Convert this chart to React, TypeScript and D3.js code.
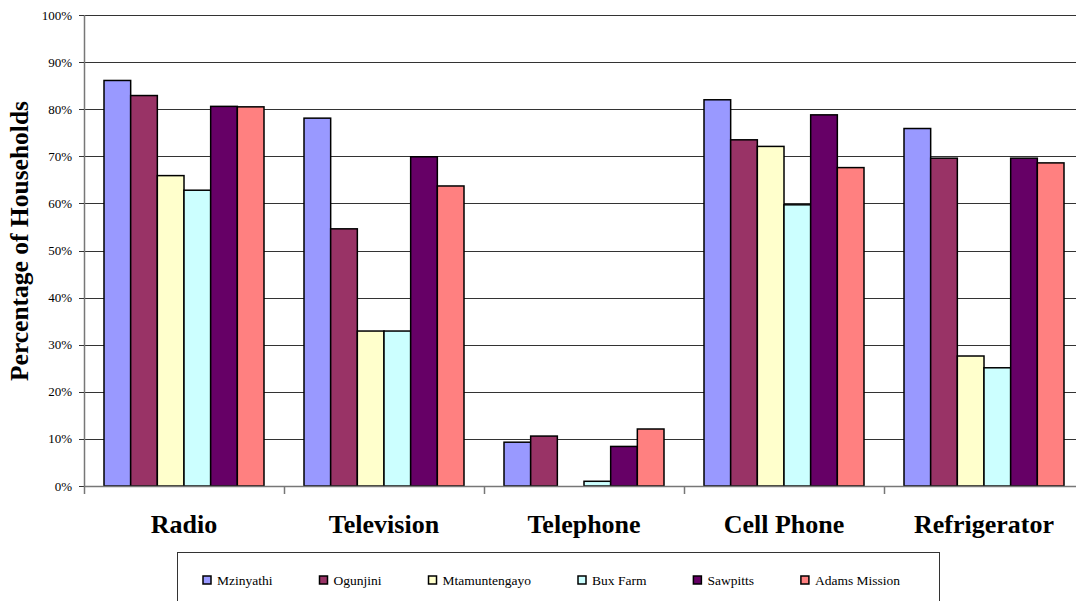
import React, { useRef, useEffect } from 'react';
import * as d3 from 'd3';

const categories = ['Radio', 'Television', 'Telephone', 'Cell Phone', 'Refrigerator'];
const seriesNames = ['Mzinyathi', 'Ogunjini', 'Mtamuntengayo', 'Bux Farm', 'Sawpitts', 'Adams Mission'];
const seriesColors = ['#9999FF', '#993366', '#FFFFCC', '#CCFFFF', '#660066', '#FF8080'];

// percentage of households, one array per area, in category order
const mzinyathi = [86.1, 78.1, 9.3, 82.0, 75.9];
const ogunjini = [82.9, 54.6, 10.6, 73.5, 69.6];
const mtamuntengayo = [65.9, 32.9, 0, 72.1, 27.6];
const buxFarm = [62.8, 32.9, 1.0, 59.7, 25.1];
const sawpitts = [80.6, 69.9, 8.4, 78.8, 69.6];
const adamsMission = [80.5, 63.7, 12.1, 67.6, 68.6];

const seriesValues = [mzinyathi, ogunjini, mtamuntengayo, buxFarm, sawpitts, adamsMission];
const yTicks = [0, 10, 20, 30, 40, 50, 60, 70, 80, 90, 100];

const W = 1076;
const H = 601;
const FONT = '"Liberation Serif", "Times New Roman", serif';

export default function App() {
  const svgRef = useRef<SVGSVGElement>(null);

  useEffect(() => {
    if (!svgRef.current) return;
    const svg = d3.select(svgRef.current);
    svg.selectAll('*').remove();

    const left = 84;
    const right = 1084;
    const top = 15;
    const bottom = 486;

    const x = d3.scaleBand<string>()
      .domain(categories)
      .range([left, right])
      .paddingInner(0.2)
      .paddingOuter(0.1);
    const step = x.step();

    const xs = d3.scaleBand<string>()
      .domain(seriesNames)
      .range([0, x.bandwidth()]);

    const y = d3.scaleLinear().domain([0, 100]).range([bottom, top]);

    svg.append('rect').attr('width', W).attr('height', H).attr('fill', '#fff');

    // gridlines
    svg.append('g')
      .selectAll('line')
      .data(yTicks.filter(t => t > 0))
      .enter().append('line')
      .attr('x1', left).attr('x2', right)
      .attr('y1', d => Math.round(y(d)) + 0.5)
      .attr('y2', d => Math.round(y(d)) + 0.5)
      .attr('stroke', '#333')
      .attr('stroke-width', 1);

    // bars
    const rows = categories.map((c, i) => ({
      cat: c,
      vals: seriesNames.map((s, j) => ({ s, j, v: seriesValues[j][i] })),
    }));

    const grp = svg.append('g')
      .selectAll('g')
      .data(rows)
      .enter().append('g')
      .attr('transform', d => `translate(${x(d.cat)},0)`);

    grp.selectAll('rect')
      .data(d => d.vals.filter(v => v.v > 0))
      .enter().append('rect')
      .attr('x', d => xs(d.s) || 0)
      .attr('y', d => y(d.v))
      .attr('width', xs.bandwidth())
      .attr('height', d => bottom - y(d.v))
      .attr('fill', d => seriesColors[d.j])
      .attr('stroke', '#000')
      .attr('stroke-width', 1.5);

    // axes
    const axisColor = '#777';
    svg.append('line')
      .attr('x1', left + 0.5).attr('x2', left + 0.5)
      .attr('y1', top).attr('y2', bottom)
      .attr('stroke', axisColor).attr('stroke-width', 1.5);
    svg.append('line')
      .attr('x1', left).attr('x2', right)
      .attr('y1', bottom + 0.5).attr('y2', bottom + 0.5)
      .attr('stroke', axisColor).attr('stroke-width', 1.5);

    // y ticks + labels
    const yt = svg.append('g');
    yt.selectAll('line')
      .data(yTicks)
      .enter().append('line')
      .attr('x1', left - 5).attr('x2', left)
      .attr('y1', d => Math.round(y(d)) + 0.5)
      .attr('y2', d => Math.round(y(d)) + 0.5)
      .attr('stroke', '#333');
    yt.selectAll('text')
      .data(yTicks)
      .enter().append('text')
      .attr('x', 72)
      .attr('y', d => y(d) + 4.5)
      .attr('text-anchor', 'end')
      .attr('font-family', FONT)
      .attr('font-size', 13)
      .attr('fill', '#000')
      .text(d => `${d}%`);

    // category ticks
    svg.append('g')
      .selectAll('line')
      .data(d3.range(categories.length + 1))
      .enter().append('line')
      .attr('x1', i => left + i * step + 0.5)
      .attr('x2', i => left + i * step + 0.5)
      .attr('y1', bottom)
      .attr('y2', bottom + 8)
      .attr('stroke', axisColor)
      .attr('stroke-width', 1.5);

    // category labels
    svg.append('g')
      .selectAll('text')
      .data(categories)
      .enter().append('text')
      .attr('x', d => (x(d) || 0) + x.bandwidth() / 2)
      .attr('y', 533)
      .attr('text-anchor', 'middle')
      .attr('font-family', FONT)
      .attr('font-weight', 'bold')
      .attr('font-size', 26)
      .attr('fill', '#000')
      .text(d => d);

    // y title
    svg.append('text')
      .attr('transform', 'translate(28,241) rotate(-90)')
      .attr('text-anchor', 'middle')
      .attr('font-family', FONT)
      .attr('font-weight', 'bold')
      .attr('font-size', 25.5)
      .attr('fill', '#000')
      .text('Percentage of Households');

    // legend
    svg.append('rect')
      .attr('x', 177.5).attr('y', 552.5)
      .attr('width', 762).attr('height', 60)
      .attr('fill', '#fff')
      .attr('stroke', '#333')
      .attr('stroke-width', 1);

    let lx = 203;
    seriesNames.forEach((name, j) => {
      svg.append('rect')
        .attr('x', lx).attr('y', 576)
        .attr('width', 8).attr('height', 8)
        .attr('fill', seriesColors[j])
        .attr('stroke', '#000')
        .attr('stroke-width', 1.5);
      const t = svg.append('text')
        .attr('x', lx + 14)
        .attr('y', 584.5)
        .attr('font-family', FONT)
        .attr('font-size', 13.5)
        .attr('fill', '#000')
        .text(name);
      const w = (t.node() as SVGTextElement).getComputedTextLength();
      lx = lx + 14 + w + 47;
    });
  }, []);

  return (
    <svg
      ref={svgRef}
      width={W}
      height={H}
      style={{ position: 'absolute', left: 0, top: 0, display: 'block' }}
    />
  );
}
